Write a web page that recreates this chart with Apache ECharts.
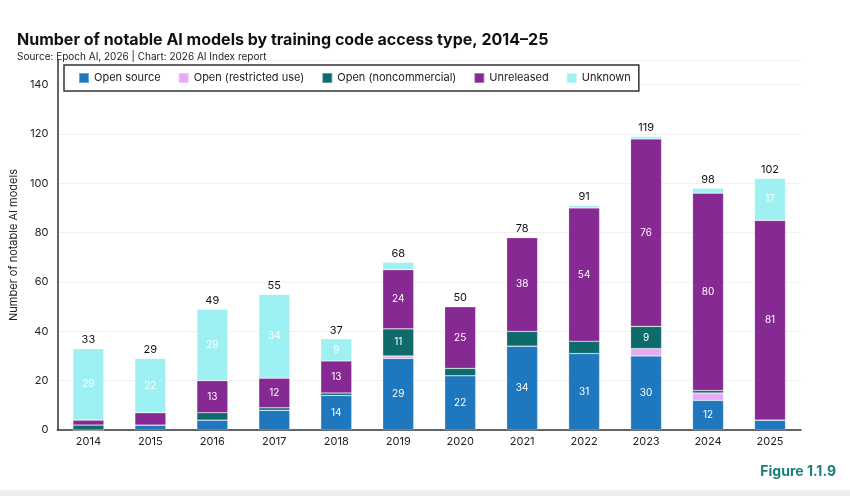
<!DOCTYPE html>
<html>
<head>
  <meta charset="utf-8">
  <title>AI models by training code access type</title>
  <script src="https://cdn.jsdelivr.net/npm/echarts@6/dist/echarts.min.js"></script>
  <style>
    html, body { margin: 0; padding: 0; background: #ffffff; }
    #chart { width: 850px; height: 496px; }
  </style>
</head>
<body>
<div id="chart"></div>
<script>
  var years = ['2014', '2015', '2016', '2017', '2018', '2019', '2020', '2021', '2022', '2023', '2024', '2025'];
  var openSource     = [0, 2, 4, 8, 14, 29, 22, 34, 31, 30, 12, 4];
  var openRestricted = [0, 0, 0, 0, 0, 1, 0, 0, 0, 3, 3, 0];
  var openNoncomm    = [2, 0, 3, 1, 1, 11, 3, 6, 5, 9, 1, 0];
  var unreleased     = [2, 5, 13, 12, 13, 24, 25, 38, 54, 76, 80, 81];
  var unknown        = [29, 22, 29, 34, 9, 3, 0, 0, 1, 1, 2, 17];
  var yTicks = [0, 20, 40, 60, 80, 100, 120, 140];

  var totals = years.map(function (y, i) {
    return openSource[i] + openRestricted[i] + openNoncomm[i] + unreleased[i] + unknown[i];
  });

  var font = 'Inter, "Noto Sans", sans-serif';

  function seg(name, data, color) {
    return {
      name: name,
      type: 'bar',
      stack: 'all',
      barWidth: '50%',
      data: data,
      itemStyle: { color: color, borderColor: 'rgba(255,255,255,0.35)', borderWidth: 0.6 },
      label: {
        show: true,
        position: 'inside',
        color: '#ffffff',
        fontSize: 10,
        fontFamily: font,
        formatter: function (p) { return p.value >= 9 ? p.value : ''; }
      }
    };
  }

  var chart = echarts.init(document.getElementById('chart'));
  chart.setOption({
    animation: false,
    textStyle: { fontFamily: font },
    title: {
      text: 'Number of notable AI models by training code access type, 2014–25',
      subtext: 'Source: Epoch AI, 2026 | Chart: 2026 AI Index report',
      left: 12,
      top: 27,
      itemGap: 4,
      textStyle: { fontSize: 16, fontWeight: 'bold', color: '#111111', fontFamily: font },
      subtextStyle: { fontSize: 10, color: '#222222', fontFamily: font }
    },
    legend: {
      data: ['Open source', 'Open (restricted use)', 'Open (noncommercial)', 'Unreleased', 'Unknown'],
      left: 64,
      top: 65,
      padding: [7, 8, 7, 14],
      itemGap: 17,
      itemWidth: 10,
      itemHeight: 10,
      icon: 'rect',
      borderColor: '#333333',
      borderWidth: 1.5,
      backgroundColor: '#ffffff',
      textStyle: { fontSize: 11, color: '#222222', fontFamily: font }
    },
    grid: { left: 54, right: 49, top: 60, bottom: 66 },
    xAxis: {
      type: 'category',
      data: years,
      axisLine: { lineStyle: { color: '#333333', width: 1.5 } },
      axisTick: { show: false },
      axisLabel: { color: '#222222', fontSize: 11, margin: 6 }
    },
    yAxis: {
      type: 'value',
      min: 0,
      max: 150,
      interval: 20,
      name: 'Number of notable AI models',
      nameLocation: 'middle',
      nameGap: 30,
      nameTextStyle: { fontSize: 11, color: '#222222' },
      axisLine: { show: true, lineStyle: { color: '#333333', width: 1.5 } },
      axisTick: { show: false },
      axisLabel: {
        color: '#222222',
        fontSize: 11,
        margin: 9,
        showMaxLabel: false,
        formatter: function (v) { return yTicks.indexOf(v) >= 0 ? v : ''; }
      },
      splitLine: { lineStyle: { color: '#f1f1f1' } }
    },
    series: [
      seg('Open source', openSource, '#1f78bd'),
      seg('Open (restricted use)', openRestricted, '#e8a9f5'),
      seg('Open (noncommercial)', openNoncomm, '#0e6a6b'),
      seg('Unreleased', unreleased, '#862992'),
      seg('Unknown', unknown, '#9ef1f3'),
      {
        name: 'Total',
        type: 'bar',
        stack: 'all',
        data: years.map(function () { return 0; }),
        itemStyle: { color: 'transparent' },
        label: {
          show: true,
          position: 'top',
          distance: 3,
          color: '#111111',
          fontSize: 11,
          fontFamily: font,
          formatter: function (p) { return totals[p.dataIndex]; }
        }
      }
    ],
    graphic: [
      {
        type: 'text',
        right: 14,
        top: 465,
        style: { text: 'Figure 1.1.9', fontSize: 14, fontWeight: 'bold', fill: '#1a7f7b', fontFamily: font }
      },
      {
        type: 'rect',
        left: 0,
        top: 490,
        shape: { width: 850, height: 6 },
        style: { fill: '#eeeeee' }
      }
    ]
  });
</script>
</body>
</html>
